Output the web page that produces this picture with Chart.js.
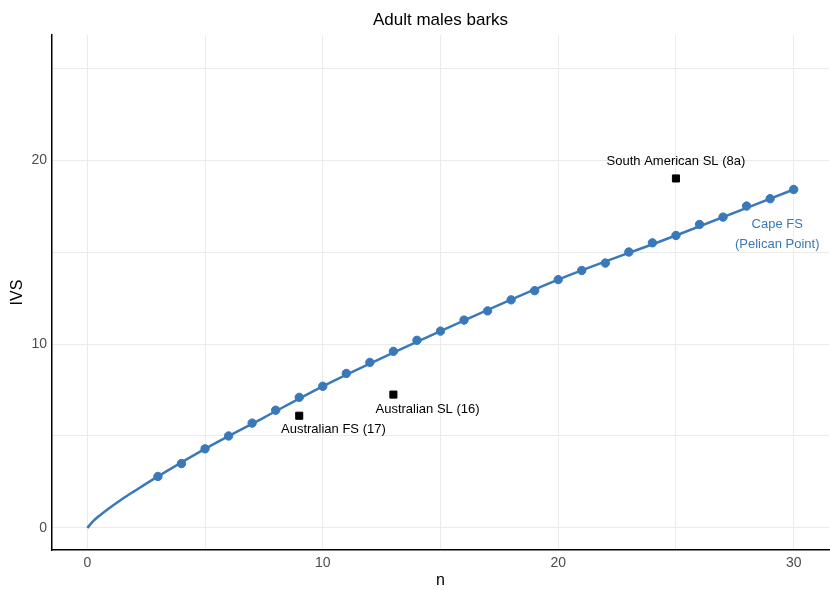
<!DOCTYPE html>
<html>
<head>
<meta charset="utf-8">
<script src="https://cdn.jsdelivr.net/npm/chart.js@4"></script>
<style>
  html, body { margin: 0; background: #fff; overflow: hidden; }
  #wrap { width: 835px; height: 590px; }
</style>
</head>
<body>
<div id="wrap"><canvas id="chart"></canvas></div>
<script>
// Cape FS (Pelican Point) observed IVS by n
const dotN = [3, 4, 5, 6, 7, 8, 9, 10, 11, 12, 13, 14, 15, 16, 17, 18, 19, 20, 21, 22, 23, 24, 25, 26, 27, 28, 29, 30];
const dotIVS = [2.8, 3.5, 4.3, 5.0, 5.7, 6.4, 7.1, 7.7, 8.4, 9.0, 9.6, 10.2, 10.7, 11.3, 11.8, 12.4, 12.9, 13.5, 14.0, 14.4, 15.0, 15.5, 15.9, 16.5, 16.9, 17.5, 17.9, 18.4];

// fitted curve
const curveN = [0, 0.25, 0.5, 1, 1.5, 2, 3, 5, 7.5, 10, 15, 20, 25, 30];
const curveIVS = [0, 0.37, 0.65, 1.14, 1.59, 2.0, 2.8, 4.3, 6.0, 7.7, 10.7, 13.5, 15.9, 18.4];

// other populations
const otherNames = ["South American SL (8a)", "Australian SL (16)", "Australian FS (17)"];
const otherN = [25, 13, 9];
const otherIVS = [19.0, 7.25, 6.1];
const labelN = [25, 14.45, 10.45];
const labelIVS = [19.9, 6.45, 5.35];

const capeLabel = ["Cape FS", "(Pelican Point)"];
const capeLabelN = 29.3;
const capeLabelIVS = [16.5, 15.4];

const xGrid = [0, 5, 10, 15, 20, 25, 30];
const yGrid = [0, 5, 10, 15, 20, 25];
const xTickLabels = [0, 10, 20, 30];
const yTickLabels = [0, 10, 20];

const blue = "#3a79b9";
const font = "'Liberation Sans', Arial, sans-serif";

const labelsPlugin = {
  id: "labels",
  afterDatasetsDraw(chart) {
    const { ctx, scales: { x, y }, chartArea } = chart;
    ctx.save();
    ctx.textAlign = "center";
    ctx.textBaseline = "middle";
    ctx.font = "13px " + font;
    ctx.fillStyle = "#000";
    otherNames.forEach((name, i) => {
      ctx.fillText(name, x.getPixelForValue(labelN[i]), y.getPixelForValue(labelIVS[i]));
    });
    ctx.fillStyle = blue;
    capeLabel.forEach((t, i) => {
      ctx.fillText(t, x.getPixelForValue(capeLabelN), y.getPixelForValue(capeLabelIVS[i]));
    });
    ctx.fillStyle = "#000";
    ctx.font = "17px " + font;
    ctx.fillText("Adult males barks", (chartArea.left + chartArea.right) / 2, 20);
    ctx.restore();
  }
};

new Chart(document.getElementById("chart"), {
  data: {
    datasets: [
      {
        type: "scatter",
        data: dotN.map((n, i) => ({ x: n, y: dotIVS[i] })),
        backgroundColor: blue,
        borderColor: blue,
        pointRadius: 4.2,
        pointHoverRadius: 4.2,
        order: 0
      },
      {
        type: "line",
        data: curveN.map((n, i) => ({ x: n, y: curveIVS[i] })),
        borderColor: blue,
        borderWidth: 2.5,
        pointRadius: 0,
        cubicInterpolationMode: "monotone",
        fill: false,
        order: 1
      },
      {
        type: "scatter",
        data: otherN.map((n, i) => ({ x: n, y: otherIVS[i] })),
        backgroundColor: "#000",
        borderColor: "#000",
        pointStyle: "rect",
        pointRadius: 5,
        pointHoverRadius: 5,
        order: 0
      }
    ]
  },
  options: {
    responsive: true,
    maintainAspectRatio: false,
    animation: false,
    layout: { padding: { top: 35, right: 0, bottom: 0, left: 0 } },
    plugins: {
      legend: { display: false },
      tooltip: { enabled: false },
      title: { display: false }
    },
    scales: {
      x: {
        type: "linear",
        min: -1.5,
        max: 31.5,
        afterBuildTicks: s => { s.ticks = xGrid.map(v => ({ value: v })); },
        afterFit: s => { s.height = 40; },
        ticks: {
          autoSkip: false,
          maxRotation: 0,
          padding: 5,
          color: "#4d4d4d",
          font: { family: font, size: 14 },
          callback: v => xTickLabels.includes(v) ? String(v) : ""
        },
        grid: { color: "#ebebeb", lineWidth: 1, drawTicks: false },
        border: { display: true, color: "#000", width: 1.5 },
        title: { display: true, text: "n", color: "#000", padding: 0, font: { family: font, size: 16 } }
      },
      y: {
        type: "linear",
        min: -1.2,
        max: 26.8,
        afterBuildTicks: s => { s.ticks = yGrid.map(v => ({ value: v })); },
        afterFit: s => { s.width = 52; },
        ticks: {
          autoSkip: false,
          padding: 5,
          color: "#4d4d4d",
          font: { family: font, size: 14 },
          callback: v => yTickLabels.includes(v) ? String(v) : ""
        },
        grid: { color: "#ebebeb", lineWidth: 1, drawTicks: false },
        border: { display: true, color: "#000", width: 1.5 },
        title: { display: true, text: "IVS", color: "#000", padding: { top: 8, bottom: 0 }, font: { family: font, size: 16 } }
      }
    }
  },
  plugins: [labelsPlugin]
});
</script>
</body>
</html>
